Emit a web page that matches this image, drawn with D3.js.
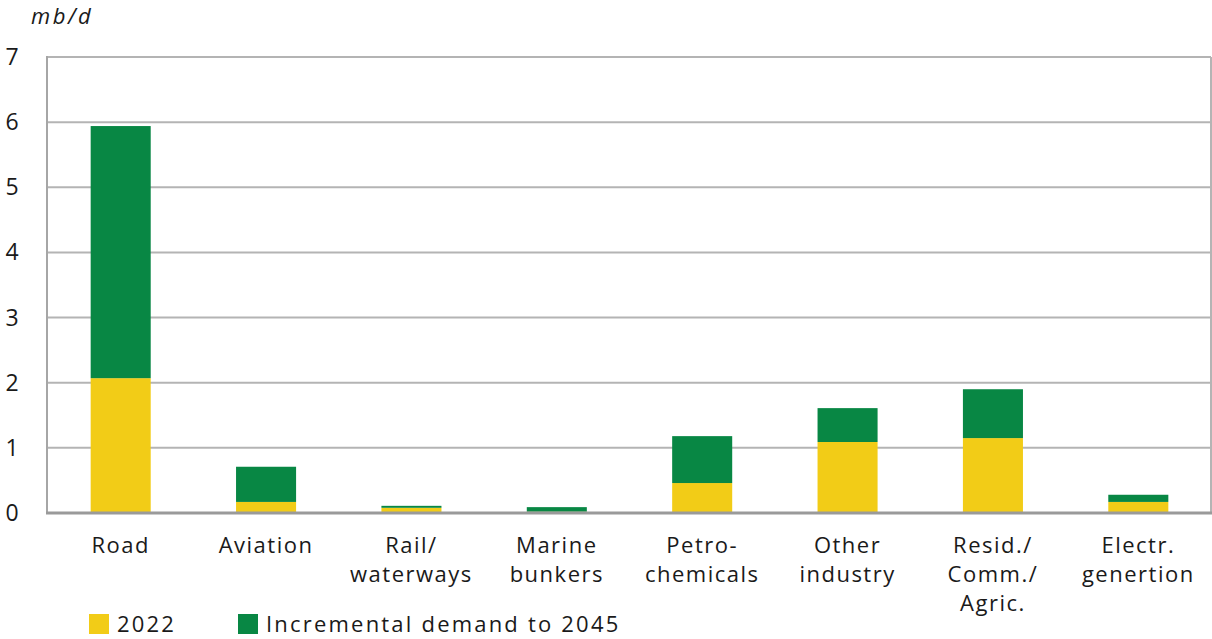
<!DOCTYPE html>
<html>
<head>
<meta charset="utf-8">
<script src="https://cdn.jsdelivr.net/npm/d3@7"></script>
<style>
  body { margin: 0; background: #fff; }
  text { font-family: "Open Sans", sans-serif; fill: #1a1a1a; }
</style>
</head>
<body>
<div id="chart"></div>
<script>
var width = 1212, height = 639;

// categories (lines of each label)
var categories = [
    ["Road"],
    ["Aviation"],
    ["Rail/", "waterways"],
    ["Marine", "bunkers"],
    ["Petro-", "chemicals"],
    ["Other", "industry"],
    ["Resid./", "Comm./", "Agric."],
    ["Electr.", "genertion"]
];
var base2022 = [2.07, 0.17, 0.08, 0.02, 0.46, 1.09, 1.15, 0.17];
var incremental = [3.87, 0.54, 0.03, 0.07, 0.72, 0.52, 0.75, 0.11];
var yTicks = [0, 1, 2, 3, 4, 5, 6, 7];
var seriesNames = ["2022", "Incremental demand to 2045"];
var colors = ["#f2cc17", "#088744"];

var plotLeft = 47, plotRight = 1211, plotTop = 57, plotBottom = 513;

var svg = d3.select("#chart").append("svg")
    .attr("width", width)
    .attr("height", height);

var x = d3.scaleBand()
    .domain(d3.range(categories.length))
    .range([48, 1211])
    .paddingInner(0.587)
    .paddingOuter(0.587 / 2);

var y = d3.scaleLinear()
    .domain([0, 7])
    .range([plotBottom, plotTop]);

// gridlines
svg.append("g")
    .selectAll("line")
    .data(yTicks.filter(function (d) { return d > 0; }))
    .enter().append("line")
    .attr("x1", plotLeft)
    .attr("x2", plotRight)
    .attr("y1", function (d) { return y(d); })
    .attr("y2", function (d) { return y(d); })
    .style("stroke", "#b4b4b4")
    .style("stroke-width", 2);

// right border
svg.append("line")
    .attr("x1", plotRight).attr("x2", plotRight)
    .attr("y1", plotTop).attr("y2", plotBottom)
    .style("stroke", "#b4b4b4")
    .style("stroke-width", 2);

// stacked bars
var stackData = categories.map(function (c, i) {
    return { i: i, a: base2022[i], b: incremental[i] };
});
var layers = d3.stack().keys(["a", "b"])(stackData);

svg.append("g")
    .selectAll("g")
    .data(layers)
    .enter().append("g")
    .style("fill", function (d, k) { return colors[k]; })
    .selectAll("rect")
    .data(function (d) { return d; })
    .enter().append("rect")
    .attr("x", function (d) { return x(d.data.i); })
    .attr("width", x.bandwidth())
    .attr("y", function (d) { return y(d[1]); })
    .attr("height", function (d) { return y(d[0]) - y(d[1]); });

// left axis line and bottom axis line
svg.append("line")
    .attr("x1", plotLeft).attr("x2", plotLeft)
    .attr("y1", plotTop - 1).attr("y2", plotBottom + 1)
    .style("stroke", "#a6a6a6")
    .style("stroke-width", 2);
svg.append("line")
    .attr("x1", plotLeft - 1).attr("x2", plotRight + 1)
    .attr("y1", plotBottom).attr("y2", plotBottom)
    .style("stroke", "#9a9a9a")
    .style("stroke-width", 3);

// y tick labels
svg.append("g")
    .selectAll("text")
    .data(yTicks)
    .enter().append("text")
    .attr("x", 12)
    .attr("y", function (d) { return y(d); })
    .attr("dy", "0.35em")
    .attr("text-anchor", "middle")
    .style("font-size", "23px")
    .text(function (d) { return d; });

// unit
svg.append("text")
    .attr("x", 31)
    .attr("y", 24)
    .style("font-size", "22px")
    .style("font-style", "italic")
    .style("letter-spacing", "2.5px")
    .text("mb/d");

// category labels
var catLabels = svg.append("g")
    .selectAll("text")
    .data(categories)
    .enter().append("text")
    .attr("x", function (d, i) { return x(i) + x.bandwidth() / 2; })
    .attr("y", 553)
    .attr("text-anchor", "middle")
    .style("font-size", "22px")
    .style("letter-spacing", "1.5px");

catLabels.selectAll("tspan")
    .data(function (d) { return d; })
    .enter().append("tspan")
    .attr("x", function () { return d3.select(this.parentNode).attr("x"); })
    .attr("dy", function (d, j) { return j === 0 ? 0 : 29; })
    .text(function (d) { return d; });

// legend
var legendX = [89, 238];
var legend = svg.append("g")
    .selectAll("g")
    .data(seriesNames)
    .enter().append("g")
    .attr("transform", function (d, i) { return "translate(" + legendX[i] + ",614)"; });

legend.append("rect")
    .attr("width", 20)
    .attr("height", 20)
    .style("fill", function (d, i) { return colors[i]; });

legend.append("text")
    .attr("x", 28)
    .attr("y", 18)
    .style("font-size", "22px")
    .style("letter-spacing", "2.2px")
    .text(function (d) { return d; });
</script>
</body>
</html>
